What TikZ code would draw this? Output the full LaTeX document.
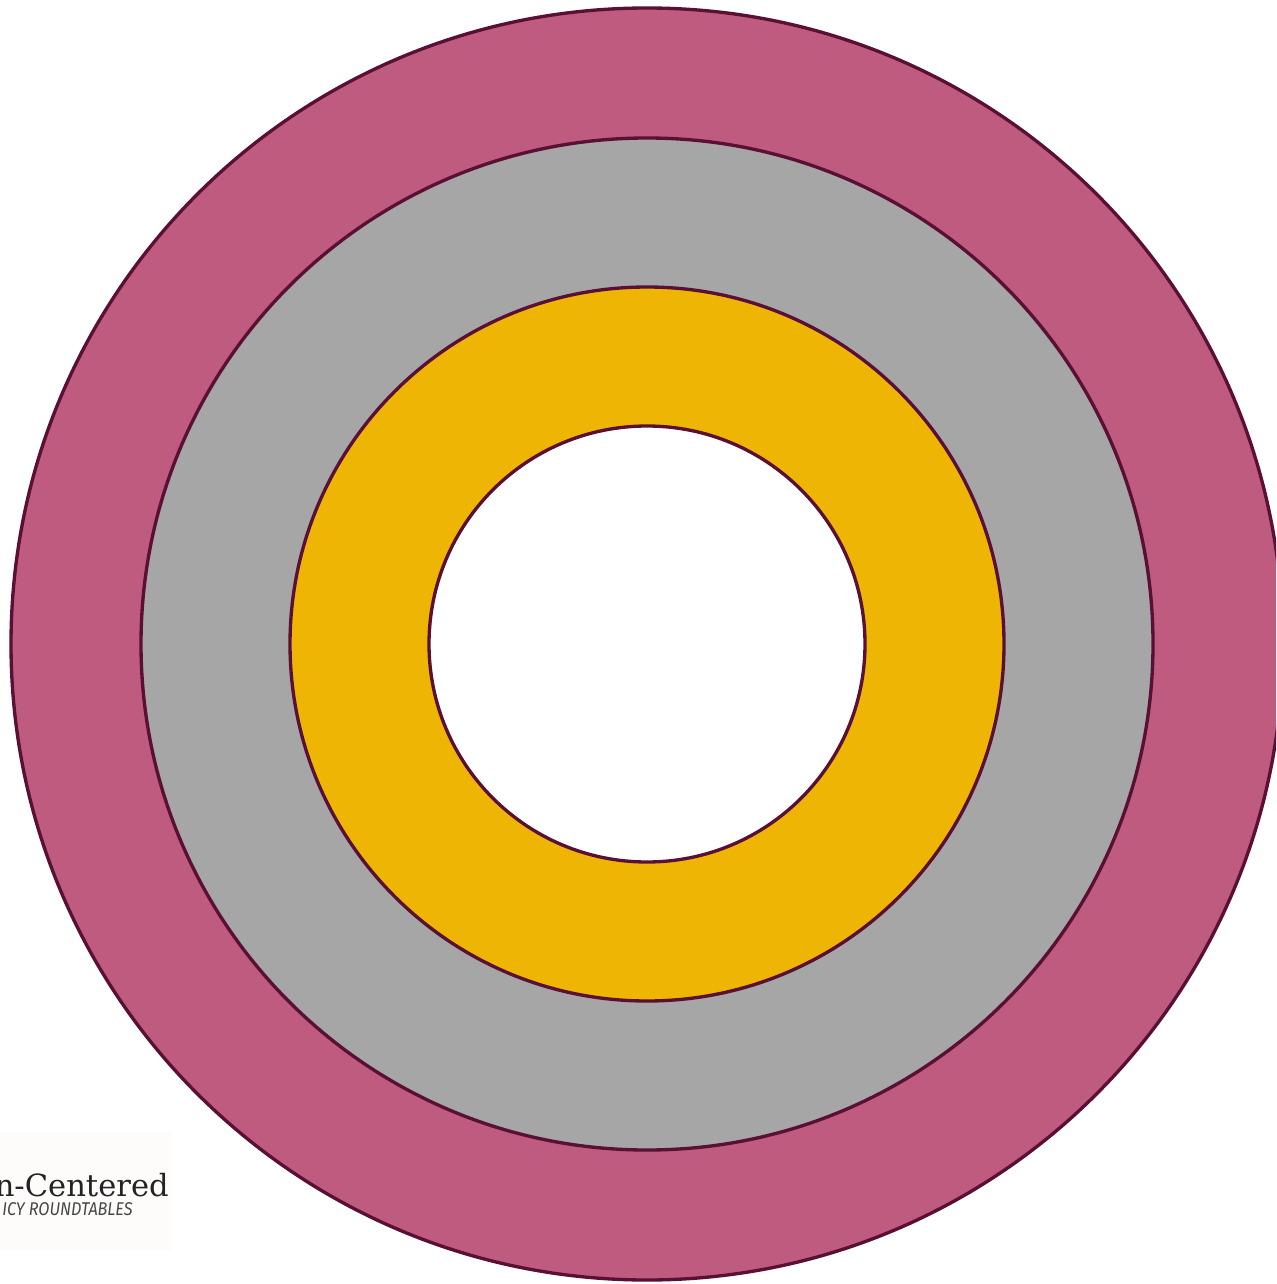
\documentclass[tikz,border=0pt]{standalone}
\usepackage{fontspec}
\newfontfamily\slabfont{DejaVu Serif}
\newfontfamily\tagfont[FakeStretch=0.88]{Fira Sans}
\definecolor{ringpink}{RGB}{191,91,127}
\definecolor{ringgray}{RGB}{166,166,166}
\definecolor{ringgold}{RGB}{239,181,5}
\definecolor{ringedge}{RGB}{90,15,53}
\definecolor{logobg}{RGB}{253,252,251}
\definecolor{logotext}{RGB}{35,35,35}
\newcommand{\ringdisc}[2]{%
  \filldraw[fill=#1,draw=ringedge,line width=1.9pt] (647,644) circle(#2);}

\begin{document}
\begin{tikzpicture}[x=0.02cm,y=-0.02cm]
\useasboundingbox (0,0) rectangle (1276,1284);
\clip (0,0) rectangle (1276,1284);
\fill[white] (0,0) rectangle (1276,1284);
\ringdisc{ringpink}{636}
\ringdisc{ringgray}{506}
\ringdisc{ringgold}{357}
\ringdisc{white}{218}
\fill[logobg] (0,1132) rectangle (172,1250);
\node[anchor=base east,inner sep=0pt,font=\slabfont\fontsize{17.4}{20}\selectfont,text=logotext] (brand) at (169,1196) {n-Centered};
\node[anchor=base east,inner sep=0pt,font=\tagfont\itshape\fontsize{10.5}{12}\selectfont,text=black!72] (tagline) at (133,1215) {ICY ROUNDTABLES};
\end{tikzpicture}
\end{document}
